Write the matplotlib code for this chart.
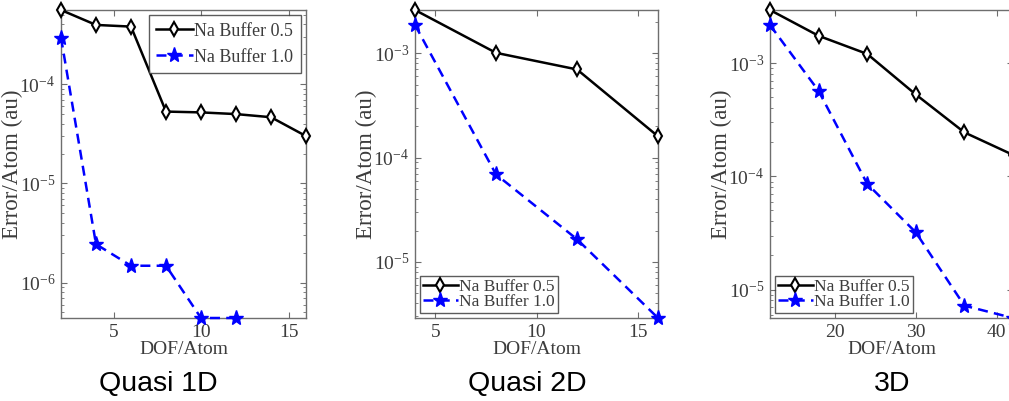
import matplotlib
matplotlib.use("Agg")
import matplotlib.pyplot as plt
from matplotlib.ticker import LogLocator, NullFormatter, FixedLocator

plt.rcParams['font.family'] = ['Liberation Serif', 'DejaVu Serif']
plt.rcParams['mathtext.fontset'] = 'stix'

# Quasi 1D
dof_1d = [2, 4, 6, 8, 10, 12, 14, 16]
err_1d_b05 = [5.6e-4, 3.96e-4, 3.81e-4, 5.3e-5, 5.2e-5, 5.0e-5, 4.65e-5, 3.0e-5]
dof_1d_b10 = [2, 4, 6, 8, 10, 12]
err_1d_b10 = [2.95e-4, 2.44e-6, 1.48e-6, 1.48e-6, 4.4e-7, 4.4e-7]

# Quasi 2D
dof_2d = [4, 8, 12, 16]
err_2d_b05 = [2.6e-3, 1.01e-3, 7.0e-4, 1.6e-4]
err_2d_b10 = [1.87e-3, 6.9e-5, 1.65e-5, 2.9e-6]

# 3D
dof_3d = [12, 18, 24, 30, 36, 42]
err_3d_b05 = [2.96e-3, 1.75e-3, 1.21e-3, 5.3e-4, 2.45e-4, 1.55e-4]
err_3d_b10 = [2.18e-3, 5.7e-4, 8.6e-5, 3.2e-5, 7.2e-6, 5.6e-6]

titles = ["Quasi 1D", "Quasi 2D", "3D"]
series_labels = ["Na Buffer 0.5", "Na Buffer 1.0"]
xticks = [[5, 10, 15], [5, 10, 15], [20, 30, 40]]

TXT = '#3c3c3c'
EDGE = '#6e6e6e'

W, H = 1009, 401
fig = plt.figure(figsize=(W / 100, H / 100), dpi=100)

panels = [
    dict(x0=61, x1=306, xlim=(2, 16), ylim=(4.4e-7, 5.6e-4),
         b05=(dof_1d, err_1d_b05), b10=(dof_1d_b10, err_1d_b10),
         legloc='upper right', lspace=0.5, bpad=0.4, lfs=13,
         yticks=[1e-6, 1e-5, 1e-4]),
    dict(x0=415, x1=658, xlim=(4, 16), ylim=(2.9e-6, 2.6e-3),
         b05=(dof_2d, err_2d_b05), b10=(dof_2d, err_2d_b10),
         legloc='lower left', lspace=-0.05, bpad=0.15, lfs=12.5,
         yticks=[1e-5, 1e-4, 1e-3]),
    dict(x0=770, x1=1013, xlim=(12, 42), ylim=(5.6e-6, 2.96e-3),
         b05=(dof_3d, err_3d_b05), b10=(dof_3d, err_3d_b10),
         legloc='lower left', lspace=-0.05, bpad=0.15, lfs=12.5,
         yticks=[1e-5, 1e-4, 1e-3]),
]
title_x = [158, 527, 892]

top_px, bot_px = 10, 318
for i, p in enumerate(panels):
    ax = fig.add_axes([p['x0'] / W, 1 - bot_px / H,
                       (p['x1'] - p['x0']) / W, (bot_px - top_px) / H])
    ax.set_yscale('log')
    ax.plot(*p['b05'], color='black', lw=1.8, marker='d', ms=7,
            mfc='white', mec='black', mew=1.5, label=series_labels[0],
            clip_on=False, zorder=3)
    ax.plot(*p['b10'], color='#0000ff', lw=1.8, ls=(0, (4, 2.5)), marker='*',
            ms=11, mfc='#0000ff', mec='#0000ff', label=series_labels[1],
            clip_on=False, zorder=3)
    ax.set_xlim(*p['xlim'])
    ax.set_ylim(*p['ylim'])
    ax.xaxis.set_major_locator(FixedLocator(xticks[i]))
    ax.yaxis.set_major_locator(FixedLocator(p['yticks']))
    ax.yaxis.set_major_formatter(matplotlib.ticker.LogFormatterSciNotation())
    ax.yaxis.set_minor_locator(LogLocator(base=10, subs=range(2, 10)))
    ax.yaxis.set_minor_formatter(NullFormatter())
    ax.tick_params(which='both', direction='in', top=True, right=True,
                   colors=EDGE, labelcolor=TXT, labelsize=14)
    ax.tick_params(which='major', length=4, pad=4)
    ax.tick_params(which='minor', length=2.5)
    for s in ax.spines.values():
        s.set_color(EDGE)
        s.set_linewidth(1.0)
    ax.set_xlabel('DOF/Atom', color=TXT, fontsize=14, labelpad=0)
    ax.set_ylabel('Error/Atom (au)', color=TXT, fontsize=16.5)
    ax.yaxis.set_label_coords(-38 / (p['x1'] - p['x0']), 0.5)
    leg = ax.legend(loc=p['legloc'], fontsize=p['lfs'], frameon=True,
                    fancybox=False, edgecolor='#333333', borderpad=p['bpad'],
                    handlelength=2.0, handletextpad=0.1, borderaxespad=0.3,
                    labelspacing=p['lspace'])
    leg.get_frame().set_linewidth(1.0)
    for t in leg.get_texts():
        t.set_color(TXT)
    fig.text(title_x[i] / W, 1 - 384 / H, titles[i], ha='center', va='center',
             fontsize=20.5, family=['Liberation Sans', 'DejaVu Sans'],
             color='black')

fig.savefig('out.png', dpi=100)
